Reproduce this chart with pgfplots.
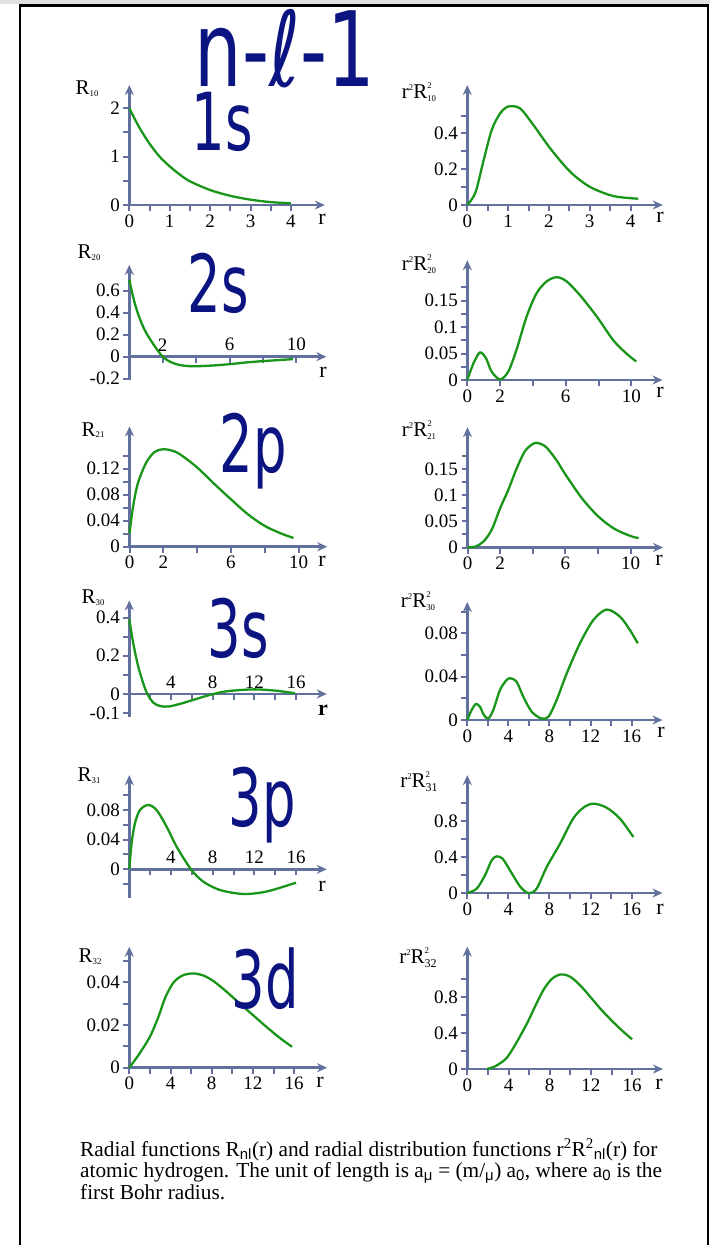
\documentclass[border=0pt]{standalone}
\usepackage{fontspec}
\setmainfont{Liberation Serif}
\setsansfont{Liberation Sans}
\newfontfamily\hand{DejaVu Sans}
\usepackage{pgfplots}
\pgfplotsset{compat=1.18}
\usetikzlibrary{arrows.meta}

\definecolor{axcol}{RGB}{98,112,158}
\definecolor{crvc}{RGB}{25,150,25}
\definecolor{ink}{RGB}{12,20,130}

\newcommand\tk{\fontsize{19}{19}\selectfont}
\newcommand\lb{\fontsize{21}{21}\selectfont}
\newcommand\sm{\fontsize{8.8}{8.8}\selectfont}
\newcommand\smb{\fontsize{12}{12}\selectfont}
\newcommand\Rn[1]{R\raisebox{-1.7pt}{\sm #1}}
% r^2 R^2_{nl}: both scripts of R in one stack
\newcommand\rRn[1]{r\raisebox{8pt}{\sm 2}R\raisebox{-3.3pt}{\sm\shortstack[l]{2\\[4.3pt]#1}}}
\newcommand\rRnb[1]{r\raisebox{8pt}{\sm 2}R\raisebox{-4.5pt}{\shortstack[l]{\sm 2\\[3pt]\smb #1}}}
\newcommand\sub[1]{\textsubscript{\sffamily #1}}

\pgfplotsset{
  orb/.style={
    axis lines*=left, enlargelimits=false, clip=false, xmin=0,
    scaled ticks=false,
    axis line style={axcol, line width=2.6pt, -{Stealth[length=10pt,width=9pt]}},
    tick style={axcol, line width=2pt},
    major tick length=6pt, tick align=outside,
    tick label style={font=\tk, text=black},
    anchor=south west,
  },
  mid/.style={axis x line*=middle, axis y line*=left,
    xticklabel style={anchor=south, yshift=8pt}},
  crv/.style={crvc, line width=2.3pt, smooth, no markers},
}

\begin{document}
\begin{tikzpicture}
\useasboundingbox (0,0) rectangle (710pt,-1245pt);
\fill[white] (0,0) rectangle (710pt,-1245pt);
\fill[black!12] (0,0) rectangle (710pt,-4pt);
\draw[line width=2.8pt] (20pt,-1250pt) -- (20pt,-5.5pt) -- (708pt,-5.5pt) -- (708pt,-1250pt);

% ---- row 1: 1s
\begin{axis}[orb, at={(129.3pt,-205pt)}, x=40.4pt, y=48.35pt,
  xmax=4.84, ymin=0, ymax=2.48,
  xtick={0,0.5,...,4}, xticklabels={0,,1,,2,,3,,4},
  ytick={0,0.5,...,2}, yticklabels={0,,1,,2}]
\addplot[crv] coordinates {
  (0,2.0) (0.25,1.6) (0.5,1.27) (0.75,1.0) (1,0.80) (1.25,0.63) (1.5,0.49)
  (2,0.31) (2.5,0.19) (3,0.11) (3.5,0.06) (4,0.035)};
\end{axis}

\begin{axis}[orb, at={(467.3pt,-205pt)}, x=40.8pt, y=179pt,
  xmax=4.79, ymin=0, ymax=0.67,
  xtick={0,0.5,...,4}, xticklabels={0,,1,,2,,3,,4},
  ytick={0,0.1,0.2,0.3,0.4,0.5}, yticklabels={0,,0.2,,0.4,}]
\addplot[crv] coordinates {
  (0,0) (0.2,0.07) (0.4,0.25) (0.6,0.42) (0.8,0.51) (1.0,0.55) (1.29,0.54)
  (1.62,0.447) (2.03,0.317) (2.52,0.186) (3.0,0.102) (3.58,0.05) (4.19,0.035)};
\end{axis}

% ---- row 2: 2s
\begin{axis}[orb, mid, at={(129.3pt,-379.8pt)}, x=16.7pt, y=110pt,
  xmax=11.8, ymin=-0.21, ymax=0.834,
  xtick={2,4,6,8,10}, xticklabels={2,,6,,10},
  ytick={-0.2,0,0.2,0.4,0.6}, yticklabels={-0.2,0,0.2,0.4,0.6}]
\addplot[crv] coordinates {
  (0,0.70) (0.25,0.53) (0.5,0.40) (0.75,0.30) (1,0.22) (1.5,0.10) (2,0.0)
  (2.5,-0.05) (3,-0.075) (3.5,-0.085) (4,-0.087) (5,-0.08) (6,-0.068)
  (7,-0.052) (8,-0.040) (9,-0.030) (9.8,-0.022)};
\end{axis}

\begin{axis}[orb, at={(467.3pt,-380pt)}, x=16.4pt, y=530pt,
  xmax=11.9, ymin=0, ymax=0.226,
  xtick={0,2,4,6,8,10}, xticklabels={0,2,,6,,10},
  ytick={0,0.025,0.05,0.075,0.1,0.125,0.15,0.175}, yticklabels={0,,0.05,,0.1,,0.15,}]
\addplot[crv] coordinates {
  (0,0) (0.37,0.031) (0.77,0.052) (1.14,0.041) (1.48,0.016) (2.0,0.001)
  (2.5,0.016) (3.0,0.057) (3.62,0.12) (4.23,0.164) (4.84,0.186) (5.45,0.194)
  (6.06,0.186) (6.87,0.16) (7.89,0.12) (8.9,0.075) (9.7,0.05) (10.3,0.035)};
\end{axis}

% ---- row 3: 2p
\begin{axis}[orb, at={(129.5pt,-546.7pt)}, x=16.9pt, y=650pt,
  xmax=11.7, ymin=0, ymax=0.185,
  xtick={0,2,4,6,8,10}, xticklabels={0,2,,6,,10},
  ytick={0,0.02,0.04,0.06,0.08,0.1,0.12,0.14}, yticklabels={0,,0.04,,0.08,,0.12,}]
\addplot[crv] coordinates {
  (0,0.02) (0.2,0.06) (0.5,0.098) (1,0.13) (1.5,0.146) (2,0.150) (2.5,0.148)
  (3,0.142) (4,0.122) (5,0.097) (6,0.073) (7,0.050) (8,0.032) (9,0.02) (9.7,0.0135)};
\end{axis}

\begin{axis}[orb, at={(467.5pt,-547.5pt)}, x=16.3pt, y=523pt,
  xmax=12.0, ymin=0, ymax=0.23,
  xtick={0,2,4,6,8,10}, xticklabels={0,2,,6,,10},
  ytick={0,0.025,0.05,0.075,0.1,0.125,0.15,0.175}, yticklabels={0,,0.05,,0.1,,0.15,}]
\addplot[crv] coordinates {
  (0,0) (0.5,0.002) (1,0.012) (1.5,0.035) (2,0.075) (2.5,0.11) (3,0.15)
  (3.5,0.183) (4,0.198) (4.3,0.200) (4.7,0.195) (5,0.186) (5.5,0.165) (6,0.14)
  (7,0.095) (8,0.060) (9,0.036) (10,0.022) (10.5,0.018)};
\end{axis}

% ---- row 4: 3s
\begin{axis}[orb, mid, at={(129.3pt,-716.5pt)}, x=10.42pt, y=191pt,
  xmax=18.95, ymin=-0.118, ymax=0.49,
  xtick={2,4,...,16}, xticklabels={,4,,8,,12,,16},
  ytick={-0.1,0,0.1,0.2,0.3,0.4}, yticklabels={-0.1,0,,0.2,,0.4}]
\addplot[crv] coordinates {
  (0,0.39) (0.38,0.265) (0.86,0.143) (1.34,0.056) (1.73,0) (2.3,-0.045)
  (2.94,-0.063) (3.74,-0.066) (4.86,-0.052) (6.14,-0.031) (7.74,-0.005)
  (9.34,0.014) (11.9,0.024) (14.1,0.017) (15.9,0.0035)};
\end{axis}

\begin{axis}[orb, at={(467.3pt,-720pt)}, x=10.27pt, y=1083pt,
  xmax=19, ymin=0, ymax=0.109,
  xtick={0,2,...,16}, xticklabels={0,,4,,8,,12,,16},
  ytick={0,0.02,0.04,0.06,0.08,0.1}, yticklabels={0,,0.04,,0.08,}]
\addplot[crv] coordinates {
  (0,0) (0.42,0.0092) (0.84,0.0148) (1.23,0.0123) (1.62,0.0046) (2.05,0.0015)
  (2.53,0.0092) (3.18,0.0277) (3.83,0.037) (4.22,0.0385) (4.8,0.0354)
  (5.45,0.0215) (6.27,0.0077) (7.18,0.0015) (7.9,0.003) (8.7,0.0185)
  (9.68,0.043) (10.97,0.0708) (12.27,0.0923) (13.57,0.102) (14.87,0.0954)
  (15.84,0.083) (16.6,0.0708)};
\end{axis}

% ---- row 5: 3p
\begin{axis}[orb, mid, at={(129.3pt,-898.2pt)}, x=10.42pt, y=741pt,
  xmax=18.95, ymin=-0.039, ymax=0.127,
  xtick={2,4,...,16}, xticklabels={,4,,8,,12,,16},
  ytick={-0.04,-0.02,0,0.02,0.04,0.06,0.08,0.1}, yticklabels={-0.04,,0,,0.04,,0.08,}]
\addplot[crv] coordinates {
  (0,0) (0.22,0.035) (0.54,0.062) (1.02,0.080) (1.82,0.0868) (2.62,0.080)
  (3.58,0.0576) (4.54,0.0306) (5.92,0) (7.1,-0.0166) (8.7,-0.0279)
  (10.94,-0.0333) (13.18,-0.030) (16.0,-0.018)};
\end{axis}

\begin{axis}[orb, at={(467.3pt,-893pt)}, x=10.27pt, y=90pt,
  xmax=19, ymin=0, ymax=1.31,
  xtick={0,2,...,16}, xticklabels={0,,4,,8,,12,,16},
  ytick={0,0.2,0.4,0.6,0.8,1.0}, yticklabels={0,,0.4,,0.8,}]
\addplot[crv] coordinates {
  (0,0) (0.91,0.048) (1.72,0.196) (2.37,0.363) (2.86,0.407) (3.44,0.381)
  (4.16,0.252) (5.13,0.074) (5.94,0) (6.75,0.048) (7.73,0.289) (9.03,0.548)
  (10.3,0.826) (11.3,0.948) (12.27,0.993) (13.57,0.948) (14.87,0.826) (16.17,0.622)};
\end{axis}

% ---- row 6: 3d
\begin{axis}[orb, at={(129.3pt,-1067.7pt)}, x=10.3pt, y=2133pt,
  xmax=19.2, ymin=0, ymax=0.0567,
  xtick={0,2,...,16}, xticklabels={0,,4,,8,,12,,16},
  ytick={0,0.01,0.02,0.03,0.04,0.05}, yticklabels={0,,0.02,,0.04,}]
\addplot[crv] coordinates {
  (0,0) (1,0.0067) (2,0.0145) (2.8,0.0235) (3.5,0.0330) (4.3,0.0400)
  (5.2,0.0433) (6.2,0.0442) (7.2,0.0432) (8.2,0.0405) (9.4,0.0358)
  (10.7,0.0302) (12,0.0247) (13.3,0.0192) (14.6,0.0140) (15.8,0.0098)};
\end{axis}

\begin{axis}[orb, at={(467.3pt,-1069pt)}, x=10.3pt, y=90pt,
  xmax=19, ymin=0, ymax=1.36,
  xtick={0,2,...,16}, xticklabels={0,,4,,8,,12,,16},
  ytick={0,0.2,0.4,0.6,0.8,1.0}, yticklabels={0,,0.4,,0.8,}]
\addplot[crv] coordinates {
  (1.9,0) (2.5,0.02) (3,0.05) (3.8,0.12) (4.5,0.24) (5.2,0.38) (5.9,0.53)
  (6.6,0.70) (7.4,0.88) (8.2,1.00) (9.0,1.05) (9.7,1.04) (10.3,1.0)
  (11.2,0.90) (12.1,0.78) (13.0,0.66) (14.0,0.54) (15.0,0.43) (16.0,0.33)};
\end{axis}

% ---- axis names
\begin{scope}[every node/.style={font=\lb, inner sep=0pt}]
\node at (87pt,-89pt) {\Rn{10}};
\node at (419pt,-92pt) {\rRn{10}};
\node at (89pt,-253pt) {\Rn{20}};
\node at (419pt,-264pt) {\rRn{20}};
\node at (93pt,-430pt) {\Rn{21}};
\node at (419pt,-430pt) {\rRn{21}};
\node at (93pt,-598pt) {\Rn{30}};
\node at (418pt,-601pt) {\rRn{30}};
\node at (89pt,-776pt) {\Rn{31}};
\node at (419pt,-782pt) {\rRnb{31}};
\node at (90pt,-957pt) {\Rn{32}};
\node at (418pt,-958pt) {\rRnb{32}};
\end{scope}
\begin{scope}[every node/.style={font=\fontsize{22}{22}\selectfont, inner sep=0pt}]
\node at (322pt,-219pt) {r};
\node at (660pt,-217pt) {r};
\node at (323pt,-372pt) {r};
\node at (660pt,-392pt) {r};
\node at (322pt,-561pt) {r};
\node at (659pt,-560pt) {r};
\node at (323pt,-710pt) {\bfseries r};
\node at (661pt,-732pt) {r};
\node at (322pt,-886pt) {r};
\node at (660pt,-909pt) {r};
\node at (320pt,-1082pt) {r};
\node at (659pt,-1084pt) {r};
\end{scope}

% ---- handwritten notes
\node[ink, font=\hand\fontsize{104}{104}\selectfont, xscale=0.72, inner sep=0pt, anchor=base]
  at (285pt,-86pt) {n-ℓ-1};
\begin{scope}[every node/.style={ink, font=\hand\fontsize{80}{80}\selectfont, xscale=0.66, inner sep=0pt, anchor=base}]
\node at (222pt,-150pt) {1s};
\node at (218pt,-312pt) {2s};
\node at (253pt,-472pt) {2p};
\node at (238pt,-657pt) {3s};
\node at (262pt,-826pt) {3p};
\node at (265pt,-1008pt) {3d};
\end{scope}

% ---- caption
\node[anchor=base west, align=left, inner sep=0pt,
  font=\fontsize{21.3}{21.5}\selectfont] at (80pt,-1199pt)
 {Radial functions R\sub{nl}(r) and radial distribution functions r\textsuperscript{2}R\textsuperscript{2}\sub{nl}(r) for\\
  atomic hydrogen. The unit of length is a\sub{μ} = (m/\sub{μ}) a\sub{0}, where a\sub{0} is the\\
  first Bohr radius.};
\end{tikzpicture}
\end{document}
